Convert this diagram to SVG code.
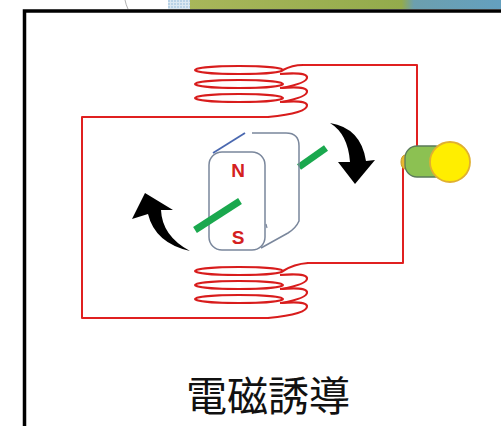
<svg xmlns="http://www.w3.org/2000/svg" width="501" height="426" viewBox="0 0 501 426">
  <defs>
    <pattern id="dots" width="3" height="3" patternUnits="userSpaceOnUse">
      <rect width="3" height="3" fill="#dbe8f2"/>
      <rect width="2" height="2" fill="#b9d2e6"/>
    </pattern>
    <linearGradient id="band" x1="0" x2="1" y1="0" y2="0">
      <stop offset="0" stop-color="#a8b65a"/>
      <stop offset="0.68" stop-color="#93ab4c"/>
      <stop offset="0.72" stop-color="#6c9fae"/>
      <stop offset="1" stop-color="#64a0bf"/>
    </linearGradient>
  </defs>
  <style>
    .wire { fill: none; stroke: #e02020; stroke-width: 2; stroke-linejoin: round; stroke-linecap: round; }
    .coil { fill: none; stroke: #d81c1c; stroke-width: 2.2; }
    .body { fill: none; stroke: #7a879c; stroke-width: 1.5; }
    .pole { font-family: "Liberation Sans", Arial, sans-serif; font-weight: bold; font-size: 19px; fill: #d42020; text-anchor: middle; }
    .rod { stroke: #1aa84e; stroke-width: 7; stroke-linecap: butt; }
    .arrow { fill: #000; }
  </style>

  <rect width="501" height="426" fill="#fff"/>

  <!-- banner strip along the top edge -->
  <g id="banner">
    <path d="M125 0 Q126 5 128 9" fill="none" stroke="#b0b0b0" stroke-width="1"/>
    <rect x="168" y="0" width="24" height="9" fill="url(#dots)"/>
    <rect x="190" y="0" width="311" height="9" fill="url(#band)"/>
  </g>

  <!-- frame -->
  <path d="M24.5 440 V11 H510" fill="none" stroke="#000" stroke-width="3.5"/>

  <!-- circuit wiring -->
  <g id="connectors">
    <!-- left loop: upper coil to lower coil -->
    <path class="wire" d="M268 117 H82 V318 H268"/>
    <!-- upper coil to lamp -->
    <path class="wire" d="M303 65 H417 V147"/>
    <!-- lamp to lower coil -->
    <path class="wire" d="M403 163 V263 H308"/>
  </g>

  <!-- upper coil -->
  <g id="coil-top">
    <path class="coil" d="M283 70 Q292 65 303 65"/>
    <ellipse class="coil" cx="239" cy="70" rx="44" ry="4"/>
    <ellipse class="coil" cx="239" cy="84" rx="44" ry="4"/>
    <ellipse class="coil" cx="239" cy="98" rx="44" ry="4"/>
    <path class="coil" d="M280 74 Q306 72 307 77 Q308 83 282 88"/>
    <path class="coil" d="M280 88 Q306 86 307 91 Q308 97 282 102"/>
    <path class="coil" d="M280 102 Q306 100 307 105 Q308 113 268 117"/>
  </g>

  <!-- lower coil -->
  <g id="coil-bottom">
    <path class="coil" d="M283 271 Q294 264 308 263"/>
    <ellipse class="coil" cx="239" cy="271" rx="44" ry="4"/>
    <ellipse class="coil" cx="239" cy="285" rx="44" ry="4"/>
    <ellipse class="coil" cx="239" cy="299" rx="44" ry="4"/>
    <path class="coil" d="M280 275 Q306 273 307 278 Q308 284 282 289"/>
    <path class="coil" d="M280 289 Q306 287 307 292 Q308 298 282 303"/>
    <path class="coil" d="M280 303 Q306 301 307 306 Q308 314 268 318"/>
  </g>

  <!-- rotating magnet with its axle -->
  <g id="magnet">
    <line class="rod" x1="299" y1="167" x2="326" y2="148"/>
    <path class="body" d="M252 133 H286 Q299 133 299 146 V221 Q296 228 288 233 L261 248"/>
    <path d="M266 224 L267 228" stroke="#7a879c" stroke-width="1.2"/>
    <line x1="213" y1="153" x2="245" y2="133" stroke="#4a68b0" stroke-width="1.8"/>
    <rect class="body" x="209" y="152" width="56" height="98" rx="13" ry="13"/>
    <line class="rod" x1="195" y1="230" x2="240" y2="201"/>
    <text class="pole" x="238" y="177">N</text>
    <text class="pole" x="238" y="244">S</text>
  </g>

  <!-- rotation arrows -->
  <g id="arrow-left">
    <path class="arrow" d="M145 193 L173 210 L161 210 Q162 236 190 251 Q155 243 148 214 L132 219 Z"/>
  </g>
  <g id="arrow-right">
    <path class="arrow" d="M330 123 Q361 128 366 161 L375 160 L355 184 L338 162 L350 162 Q348 134 330 123 Z"/>
  </g>

  <!-- lamp -->
  <g id="lamp">
    <ellipse cx="405" cy="162" rx="4" ry="7" fill="#e8b830" stroke="#c89a20" stroke-width="1"/>
    <rect x="405" y="146" width="42" height="31" rx="12" ry="12" fill="#8cc152" stroke="#5a7a5a" stroke-width="1.3"/>
    <circle cx="450" cy="162" r="20" fill="#ffee00" stroke="#e0b030" stroke-width="1.8"/>
  </g>

  <!-- caption -->
  <text x="268" y="411" font-family="'Noto Sans CJK JP', 'Noto Sans CJK SC', sans-serif" font-size="41" text-anchor="middle" fill="#111">電磁誘導</text>
</svg>
